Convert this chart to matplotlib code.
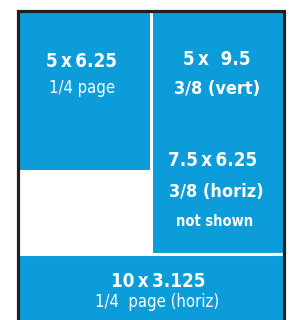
import matplotlib
matplotlib.use('Agg')
import matplotlib.pyplot as plt
from matplotlib import font_manager as fm
from matplotlib.patches import Rectangle

# ad sizes on a 10 x 12.5 page (inches): x, y (from top), width, height
panel_names = ['quarter', 'vert38', 'horiz14']
panel_x = [0, 5, 0]
panel_y = [0, 0, 9.5]
panel_w = [5, 5, 10]
panel_h = [6.25, 9.5, 3.125]

# labels: text, x, baseline y, size, bold
TS = '\u2009'  # thin space, the original is set very tight
label_text = ['5' + TS + 'x' + TS + '6.25', '1/4 page',
              '5' + TS + 'x  9.5', '3/8 (vert)',
              '7.5' + TS + 'x' + TS + '6.25', '3/8 (horiz)', 'not shown',
              '10' + TS + 'x' + TS + '3.125', '1/4  page (horiz)']
label_x = [2.41, 2.41, 7.5, 7.5, 7.35, 7.46, 7.42, 5.28, 5.26]
label_y = [2.21, 3.22, 2.13, 3.26, 6.07, 7.28, 8.42, 10.80, 11.58]
label_size = [13.5, 12, 13.5, 13, 13.5, 13, 10.5, 13.5, 12]
label_bold = [True, False, True, True, True, True, True, True, False]

BLUE = '#0b9cd9'
DARK = '#231f20'

# look for a narrow face, the original uses a condensed humanist font
fonts = fm.findSystemFonts()
def pick(keys):
    for k in keys:
        for f in fonts:
            if f.split('/')[-1].lower() == k.lower():
                return fm.FontProperties(fname=f)
    return None

font_bold = pick(['LiberationSansNarrow-Bold.ttf', 'DejaVuSansCondensed-Bold.ttf'])
font_reg = pick(['LiberationSansNarrow-Regular.ttf', 'DejaVuSansCondensed.ttf'])
if font_bold is None:
    font_bold = fm.FontProperties(family='DejaVu Sans', weight='bold')
if font_reg is None:
    font_reg = fm.FontProperties(family='DejaVu Sans')

fig = plt.figure(figsize=(2.89, 3.2), dpi=100)
ax = fig.add_axes([0, 0, 1, 1])
ax.set_xlim(-17.5 / 26.6, (289 - 17.5) / 26.6)
ax.set_ylim((320 - 10.5) / 25.6, -10.5 / 25.6)
ax.axis('off')

for i in range(len(panel_names)):
    ax.add_patch(Rectangle((panel_x[i], panel_y[i]), panel_w[i], panel_h[i],
                           facecolor=BLUE, edgecolor='white', linewidth=2.2, zorder=1))

# page frame
ax.plot([0, 0, 10, 10], [13, 0, 0, 13], color=DARK, linewidth=2.3,
        solid_joinstyle='miter', zorder=3)

for i in range(len(label_text)):
    fp = (font_bold if label_bold[i] else font_reg).copy()
    fp.set_size(label_size[i])
    ax.text(label_x[i], label_y[i], label_text[i], color='white',
            ha='center', va='baseline', fontproperties=fp, zorder=4)

fig.savefig('out.png', dpi=100)
